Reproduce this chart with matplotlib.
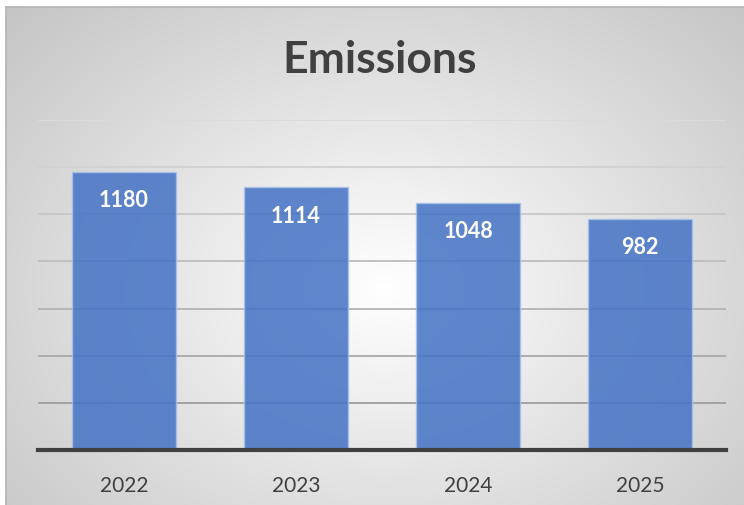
import numpy as np
import matplotlib
matplotlib.use("Agg")
import matplotlib.pyplot as plt

categories = ["2022", "2023", "2024", "2025"]
values = [1180, 1114, 1048, 982]
title = "Emissions"
y_ticks = [0, 200, 400, 600, 800, 1000, 1200, 1400]

W, H = 744, 506
fig = plt.figure(figsize=(W / 100, H / 100), dpi=100)
fig.patch.set_facecolor("white")

# background panel with radial gradient
bx0, by0 = 6, 8
bg = fig.add_axes([bx0 / W, 0, (W - bx0) / W, (H - by0) / H])
nx, ny = 400, 280
xs = np.linspace(bx0, W, nx)
ys = np.linspace(by0, H, ny)
X, Y = np.meshgrid(xs, ys)
cx, cy, rx, ry = 385, 290, 440, 340
r = np.sqrt(((X - cx) / rx) ** 2 + ((Y - cy) / ry) ** 2)
val = 1.0 - 0.24 * np.clip(r, 0, 1.25) / 1.25
img = np.dstack([val, val, val])
bg.imshow(img, aspect="auto", extent=[0, 1, 0, 1], origin="upper", interpolation="bilinear")
bg.set_xlim(0, 1)
bg.set_ylim(0, 1)
bg.set_xticks([])
bg.set_yticks([])
for s in ["top", "left"]:
    bg.spines[s].set_color("#b4b4b4")
    bg.spines[s].set_linewidth(1.2)
for s in ["right", "bottom"]:
    bg.spines[s].set_visible(False)

# main axes
left, right, bottom, top = 38, 726, 451, 121
ax = fig.add_axes([left / W, (H - bottom) / H, (right - left) / W, (bottom - top) / H])
ax.patch.set_alpha(0)
ax.set_xlim(-0.5, len(categories) - 0.5)
ax.set_ylim(0, 1400)

# gridlines, lighter at the top
for t in y_ticks[1:]:
    frac = t / 1400
    g = 0.58 + 0.28 * frac
    ax.axhline(t, color=(g, g, g), linewidth=1.3, zorder=1)

x = np.arange(len(categories))
bars = ax.bar(x, values, width=0.6, color="#4472C4", alpha=0.85,
              edgecolor="#a9c0ea", linewidth=1.0, zorder=2)

for xi, v in zip(x, values):
    ax.annotate(str(v), (xi, v), xytext=(0, -28), textcoords="offset pixels",
                ha="center", va="center", color="white", fontsize=15.5,
                fontweight="bold", family="Lato", zorder=4)

for s in ["top", "left", "right"]:
    ax.spines[s].set_visible(False)
ax.spines["bottom"].set_color("#404040")
ax.spines["bottom"].set_linewidth(3)
ax.spines["bottom"].set_zorder(5)
ax.set_yticks([])
ax.set_xticks(x)
ax.set_xticklabels(categories, fontsize=15, color="#404040", family="Lato")
ax.tick_params(axis="x", length=0, pad=18)

fig.text(380 / W, 1 - 60 / H, title, ha="center", va="center", fontsize=32,
         fontweight="bold", color="#404040", family="Lato")

fig.savefig("out.png", dpi=100, facecolor="white")
